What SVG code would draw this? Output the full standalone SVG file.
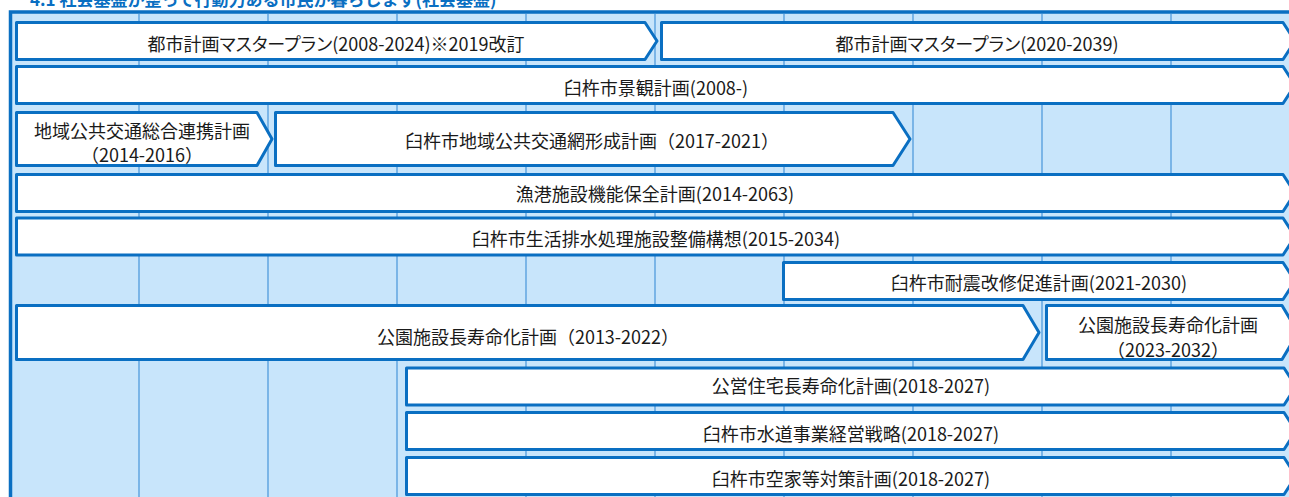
<svg xmlns="http://www.w3.org/2000/svg" width="1289" height="497" viewBox="0 0 1289 497">
<style>
.bg{fill:#c8e5fb;stroke:#0a6fc2;stroke-width:3.5}
.grid{stroke:#3c8fd8;stroke-width:1.1;fill:none}
.box{fill:#ffffff;stroke:#0a6fc2;stroke-width:3;stroke-linejoin:round}
.t{font-family:"Noto Sans CJK JP","Noto Sans CJK SC",sans-serif;font-size:18px;fill:#1a1a1a;text-anchor:middle}
.k{font-feature-settings:"palt"}
.title{font-family:"Noto Sans CJK JP",sans-serif;font-size:17px;font-weight:bold;fill:#0a6fc2}
</style>
<rect width="1289" height="497" fill="#ffffff"/>
<text class="title" x="30" y="6">4.1 社会基盤が整って行動力ある市民が暮らします(社会基盤)</text>
<g id="frame">
<rect class="bg" x="10.5" y="12" width="1300" height="500"/>
<path class="grid" d="M139,14V497M268,14V497M397,14V497M526,14V497M655,14V497M784,14V497M913,14V497M1042,14V497M1171,14V497"/>
</g>
<g id="connectors"/>
<g id="n1">
<path class="box" d="M16.5,22.5H645L657,41L645,59.5H16.5Z"/>
<text class="t k" x="336" y="51">都市計画マスタープラン(2008-2024)※2019改訂</text>
</g>
<g id="n2">
<path class="box" d="M661.5,22.5H1283L1295,41L1283,59.5H661.5Z"/>
<text class="t k" x="977" y="51">都市計画マスタープラン(2020-2039)</text>
</g>
<g id="n3">
<path class="box" d="M16.5,66.5H1283L1295,85L1283,103.5H16.5Z"/>
<text class="t" x="656" y="95">臼杵市景観計画(2008-)</text>
</g>
<g id="n4">
<path class="box" d="M16.5,112.5H257L272,139L257,165.5H16.5Z"/>
<text class="t" x="142" y="137.5">地域公共交通総合連携計画</text>
<text class="t" x="142" y="161.5">（2014-2016）</text>
</g>
<g id="n5">
<path class="box" d="M275.5,112.5H893L910,139L893,165.5H275.5Z"/>
<text class="t" x="592" y="148">臼杵市地域公共交通網形成計画（2017-2021）</text>
</g>
<g id="n6">
<path class="box" d="M16.5,174.5H1283L1295,193L1283,211.5H16.5Z"/>
<text class="t" x="655" y="201">漁港施設機能保全計画(2014-2063)</text>
</g>
<g id="n7">
<path class="box" d="M16.5,218H1283L1295,236.5L1283,255H16.5Z"/>
<text class="t" x="656" y="246">臼杵市生活排水処理施設整備構想(2015-2034)</text>
</g>
<g id="n8">
<path class="box" d="M783.5,262.5H1283L1295,281L1283,299.5H783.5Z"/>
<text class="t" x="1039" y="290">臼杵市耐震改修促進計画(2021-2030)</text>
</g>
<g id="n9">
<path class="box" d="M16.5,305.5H1023L1039,332.5L1023,359.5H16.5Z"/>
<text class="t" x="528" y="344">公園施設長寿命化計画（2013-2022）</text>
</g>
<g id="n10">
<path class="box" d="M1046.5,305.5H1282L1298,332.5L1282,359.5H1046.5Z"/>
<text class="t" x="1168" y="331.5">公園施設長寿命化計画</text>
<text class="t" x="1168" y="356.5">（2023-2032）</text>
</g>
<g id="n11">
<path class="box" d="M406.5,368H1284L1296,386.5L1284,405H406.5Z"/>
<text class="t" x="851" y="393">公営住宅長寿命化計画(2018-2027)</text>
</g>
<g id="n12">
<path class="box" d="M406.5,412.5H1284L1296,431L1284,449.5H406.5Z"/>
<text class="t" x="851" y="441">臼杵市水道事業経営戦略(2018-2027)</text>
</g>
<g id="n13">
<path class="box" d="M406.5,457.5H1284L1296,476L1284,494.5H406.5Z"/>
<text class="t" x="851" y="486">臼杵市空家等対策計画(2018-2027)</text>
</g>
</svg>
